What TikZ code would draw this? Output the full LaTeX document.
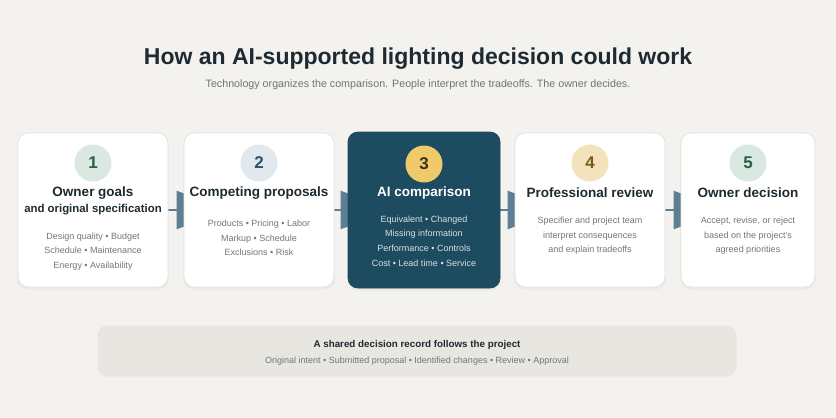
\documentclass[tikz,border=0pt]{standalone}
\usepackage{fontspec}
\setmainfont{Liberation Sans}
\usetikzlibrary{arrows.meta,backgrounds,shadows}
\definecolor{bgc}{HTML}{F3F2EE}
\definecolor{ink}{HTML}{1E2A31}
\definecolor{subc}{HTML}{6B7479}
\definecolor{detc}{HTML}{6E777C}
\definecolor{bordc}{HTML}{DFE3E5}
\definecolor{darkc}{HTML}{1D4B5F}
\definecolor{connc}{HTML}{5E7F93}
\definecolor{greenc}{HTML}{D9E8E0}
\definecolor{greenn}{HTML}{2C5B4A}
\definecolor{bluec}{HTML}{E2E9EE}
\definecolor{bluen}{HTML}{2F5269}
\definecolor{yelc}{HTML}{F0C96A}
\definecolor{yeln}{HTML}{3A3020}
\definecolor{beigec}{HTML}{F3E2BC}
\definecolor{beigen}{HTML}{7A5A1C}
\definecolor{panelc}{HTML}{E8E6E0}
\definecolor{lightt}{HTML}{D6E1E7}
\tikzset{
  card/.style={draw=bordc, line width=0.8pt, fill=white, rounded corners=10pt,
    drop shadow={opacity=0.06, shadow xshift=0pt, shadow yshift=-2pt, shadow scale=1.01}},
  darkcard/.style={card, draw=darkc, fill=darkc},
  badge/.style={circle, minimum size=37pt, inner sep=0pt, font=\fontsize{17}{20}\selectfont\bfseries},
  head/.style={font=\fontsize{13.5}{16}\selectfont\bfseries, text=ink, inner sep=0pt},
  subhead/.style={font=\fontsize{11.4}{14}\selectfont\bfseries, text=ink, inner sep=0pt},
  det/.style={font=\fontsize{9}{14.5}\selectfont, text=detc, align=center, inner sep=0pt},
  conn/.style={draw=connc, line width=2pt, shorten >=-46pt,
    -{Triangle[length=53pt,width=38pt]}},
}
\begin{document}
\begin{tikzpicture}[x=1pt,y=-1pt]
\useasboundingbox (0,0) rectangle (836,418);
% cards
\node[card, minimum width=150pt, minimum height=154pt] (c1) at (93,210) {};
\node[card, minimum width=150pt, minimum height=154pt] (c2) at (259,210) {};
\node[darkcard, minimum width=152pt, minimum height=156pt] (c3) at (424,210) {};
\node[card, minimum width=150pt, minimum height=154pt] (c4) at (590,210) {};
\node[card, minimum width=134pt, minimum height=154pt] (c5) at (748,210) {};
% connectors
\begin{scope}[on background layer]
\fill[bgc] (0,0) rectangle (836,418);
\draw[conn] (c1.east) -- (c2.west);
\draw[conn] (c2.east) -- (c3.west);
\draw[conn] (c3.east) -- (c4.west);
\draw[conn] (c4.east) -- (c5.west);
\end{scope}
% title
\node[font=\fontsize{23}{26}\selectfont\bfseries, text=ink] (title) at (418,59) {How an AI-supported lighting decision could work};
\node[font=\fontsize{10.7}{13}\selectfont, text=subc] (sub) at (418,85) {Technology organizes the comparison. People interpret the tradeoffs. The owner decides.};
% badges
\node[badge, fill=greenc, text=greenn] (n1) at (93,163) {1};
\node[badge, fill=bluec, text=bluen] (n2) at (259,163) {2};
\node[badge, fill=yelc, text=yeln] (n3) at (424,164) {3};
\node[badge, fill=beigec, text=beigen] (n4) at (590,163) {4};
\node[badge, fill=greenc, text=greenn] (n5) at (748,163) {5};
% card 1
\node[head] (h1) at (93,193) {Owner goals};
\node[subhead] (s1) at (93,210) {and original specification};
\node[det] (d1) at (93,251.5) {Design quality • Budget\\Schedule • Maintenance\\Energy • Availability};
% card 2
\node[head] (h2) at (259,193) {Competing proposals};
\node[det] (d2) at (259,238) {Products • Pricing • Labor\\Markup • Schedule\\Exclusions • Risk};
% card 3
\node[head, text=white] (h3) at (424,193) {AI comparison};
\node[det, text=lightt, font=\fontsize{9}{14.6}\selectfont] (d3) at (424,241) {Equivalent • Changed\\Missing information\\Performance • Controls\\Cost • Lead time • Service};
% card 4
\node[head] (h4) at (590,193) {Professional review};
\node[det] (d4) at (590,236) {Specifier and project team\\interpret consequences\\and explain tradeoffs};
% card 5
\node[head] (h5) at (748,193) {Owner decision};
\node[det] (d5) at (748,236) {Accept, revise, or reject\\based on the project's\\agreed priorities};
% bottom panel
\node[fill=panelc, rounded corners=10pt, minimum width=639pt, minimum height=51pt, inner sep=0pt] (panel) at (417,351) {};
\node[font=\fontsize{9.8}{12}\selectfont\bfseries, text=ink] (pt) at (417,344.5) {A shared decision record follows the project};
\node[font=\fontsize{9}{11}\selectfont, text=detc] (pd) at (417,361) {Original intent • Submitted proposal • Identified changes • Review • Approval};
\end{tikzpicture}
\end{document}
